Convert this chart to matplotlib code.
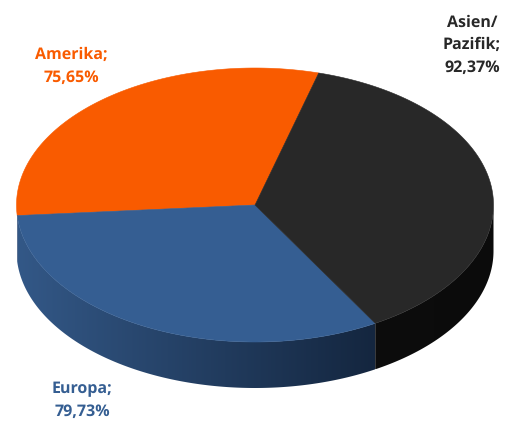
import numpy as np
import matplotlib.pyplot as plt
from matplotlib.colors import LinearSegmentedColormap
from matplotlib.patches import Polygon

regions = ['Amerika', 'Europa', 'Asien/\nPazifik']
shares = [75.65, 79.73, 92.37]
top_colors = ['#f95b00', '#355e92', '#282828']
side_start = ['#c94a00', '#335887', '#0d0d0d']
side_end = ['#c94a00', '#14263f', '#0b0b0b']
label_colors = ['#f95b00', '#355e92', '#282828']
label_pos = [(71, 66), (82, 400), (472, 45)]

cx, cy = 255, 205
rx, ry = 238.5, 137
depth = 46
start_angle = 74.5

plt.rcParams['font.family'] = ['Open Sans', 'DejaVu Sans']
plt.rcParams['text.hinting'] = 'no_hinting'

fig = plt.figure(figsize=(5.12, 4.21), dpi=100)
ax = fig.add_axes([0, 0, 1, 1])
ax.set_xlim(0, 512)
ax.set_ylim(421, 0)
ax.axis('off')


def rim(a0, a1, n=200):
    # points along the ellipse between two angles (degrees, counterclockwise)
    t = np.radians(np.linspace(a0, a1, n))
    return cx + rx * np.cos(t), cy - ry * np.sin(t)


spans = np.array(shares) / sum(shares) * 360
edges = start_angle + np.concatenate([[0], np.cumsum(spans)])

# side wall first, only the front half of the disc can be seen
for i in range(len(shares)):
    for lo, hi in [(180, 360), (540, 720)]:
        a0, a1 = max(edges[i], lo), min(edges[i + 1], hi)
        if a1 <= a0:
            continue
        x, y = rim(a0, a1)
        pts = np.column_stack([np.r_[x, x[::-1]], np.r_[y + depth, y[::-1]]])
        cmap = LinearSegmentedColormap.from_list('side', [side_start[i], side_end[i]])
        grad = np.linspace(0, 1, 256).reshape(1, -1)
        im = ax.imshow(grad, cmap=cmap, aspect='auto', interpolation='bilinear',
                       extent=[x.min(), x.max(), y.max() + depth, y.min()], zorder=1)
        clip = Polygon(pts, closed=True, transform=ax.transData)
        im.set_clip_path(clip)

ax.set_xlim(0, 512)
ax.set_ylim(421, 0)

# top face
for i in range(len(shares)):
    x, y = rim(edges[i], edges[i + 1])
    ax.fill(np.r_[cx, x], np.r_[cy, y], color=top_colors[i], lw=0.4, zorder=2)

for i in range(len(shares)):
    ax.text(label_pos[i][0], label_pos[i][1],
            '%s;\n%s%%' % (regions[i], ('%.2f' % shares[i]).replace('.', ',')),
            color=label_colors[i], fontsize=11.5, fontweight='bold',
            ha='center', va='center', linespacing=1.55, zorder=3)

fig.savefig('out.png', dpi=100)
